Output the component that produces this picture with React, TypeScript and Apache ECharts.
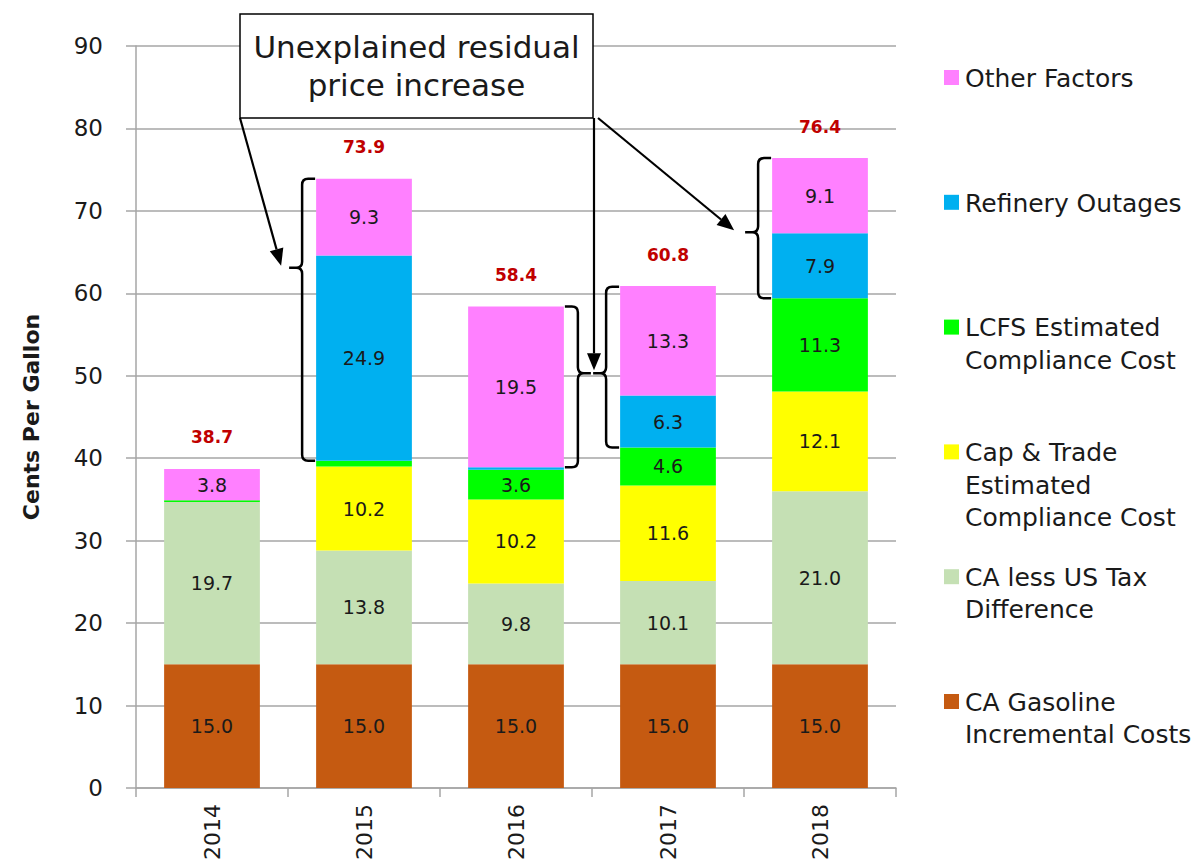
import React, { useEffect, useRef } from "react";
import * as echarts from "echarts";

const years = ["2014", "2015", "2016", "2017", "2018"];
const baseCost = [15.0, 15.0, 15.0, 15.0, 15.0];
const taxDiff = [19.7, 13.8, 9.8, 10.1, 21.0];
const capTrade = [0.0, 10.2, 10.2, 11.6, 12.1];
const lcfs = [0.2, 0.7, 3.6, 4.6, 11.3];
const refinery = [0.0, 24.9, 0.3, 6.3, 7.9];
const otherFactors = [3.8, 9.3, 19.5, 13.3, 9.1];
const totals = [38.7, 73.9, 58.4, 60.8, 76.4];

const seriesNames = [
  "CA Gasoline Incremental Costs",
  "CA less US Tax Difference",
  "Cap & Trade Estimated Compliance Cost",
  "LCFS Estimated Compliance Cost",
  "Refinery Outages",
  "Other Factors",
];
const legendLabels = [
  "CA Gasoline\nIncremental Costs",
  "CA less US Tax\nDifference",
  "Cap & Trade\nEstimated\nCompliance Cost",
  "LCFS Estimated\nCompliance Cost",
  "Refinery Outages",
  "Other Factors",
];
const seriesColors = ["#C55A11", "#C5E0B4", "#FFFF00", "#00FF00", "#00B0F0", "#FF80FF"];
const seriesData = [baseCost, taxDiff, capTrade, lcfs, refinery, otherFactors];

// brace annotations: category index, side, stack range (bottom..top), tip value
const braceYear = [1, 2, 3, 4];
const braceSide = [-1, 1, -1, -1];
const braceBottom = [39.7, 38.9, 41.3, 59.4];
const braceTop = [73.9, 58.4, 60.8, 76.4];
const braceTip = [63.1, 50.3, 50.3, 67.4];

const annotationText = "Unexplained residual\nprice increase";

const FONT = "'DejaVu Sans', sans-serif";
const TXT = "#1a1a1a";

const Brace = (echarts.graphic as any).extendShape({
  type: "brace",
  shape: { x1: 0, y1: 0, y2: 0, yt: 0, dir: -1, arm: 13, tip: 13, r: 6 },
  buildPath(ctx: any, s: any) {
    const sg = s.dir;
    const xv = s.x1 + sg * s.arm;
    const xt = xv + sg * s.tip;
    const r = s.r;
    ctx.moveTo(s.x1, s.y1);
    ctx.lineTo(xv - sg * r, s.y1);
    ctx.quadraticCurveTo(xv, s.y1, xv, s.y1 + r);
    ctx.lineTo(xv, s.yt - r);
    ctx.quadraticCurveTo(xv, s.yt, xv + sg * r, s.yt);
    ctx.lineTo(xt, s.yt);
    ctx.moveTo(xv + sg * r, s.yt);
    ctx.quadraticCurveTo(xv, s.yt, xv, s.yt + r);
    ctx.lineTo(xv, s.y2 - r);
    ctx.quadraticCurveTo(xv, s.y2, xv - sg * r, s.y2);
    ctx.lineTo(s.x1, s.y2);
  },
});
(echarts.graphic as any).registerShape("brace", Brace);

function arrow(x1: number, y1: number, x2: number, y2: number) {
  const dx = x2 - x1;
  const dy = y2 - y1;
  const len = Math.sqrt(dx * dx + dy * dy);
  const ux = dx / len;
  const uy = dy / len;
  const L = 17;
  const W = 7;
  const bx = x2 - ux * L;
  const by = y2 - uy * L;
  const nx = -uy;
  const ny = ux;
  return [
    {
      type: "line",
      shape: { x1, y1, x2: bx, y2: by },
      style: { stroke: "#000", lineWidth: 2.2 },
      z: 100,
    },
    {
      type: "polygon",
      shape: {
        points: [
          [x2, y2],
          [bx + nx * W, by + ny * W],
          [bx - nx * W, by - ny * W],
        ],
      },
      style: { fill: "#000" },
      z: 100,
    },
  ];
}

export default function App() {
  const ref = useRef<HTMLDivElement>(null);

  useEffect(() => {
    if (!ref.current) return;
    const chart = echarts.init(ref.current, null, { renderer: "svg" });
    const barSeries = seriesNames.map((name, k) => ({
      name,
      type: "bar",
      stack: "total",
      barWidth: "63%",
      data: seriesData[k],
      itemStyle: { color: seriesColors[k] },
      label: {
        show: true,
        position: "inside",
        color: TXT,
        fontSize: 19,
        fontFamily: FONT,
        formatter: (p: any) => (p.value >= 1 ? Number(p.value).toFixed(1) : ""),
      },
    }));
    const option: any = {
      animation: false,
      textStyle: { fontFamily: FONT },
      grid: { left: 136, right: 302, top: 46, bottom: 77 },
      xAxis: {
        type: "category",
        data: years,
        axisLine: { lineStyle: { color: "#A6A6A6", width: 1.5 } },
        axisTick: { show: true, length: 9, lineStyle: { color: "#A6A6A6", width: 1.5 } },
        axisLabel: { rotate: 90, fontSize: 22, color: TXT, margin: 16, fontFamily: FONT },
      },
      yAxis: {
        type: "value",
        min: 0,
        max: 90,
        interval: 10,
        name: "Cents Per Gallon",
        nameLocation: "middle",
        nameRotate: 90,
        nameGap: 94,
        nameTextStyle: { fontSize: 22, fontWeight: "bold", color: TXT, fontFamily: FONT },
        axisLine: { show: true, lineStyle: { color: "#A6A6A6", width: 1.5 } },
        axisTick: { show: true, length: 10, lineStyle: { color: "#A6A6A6", width: 1.5 } },
        splitLine: { lineStyle: { color: "#A6A6A6", width: 1.5 } },
        axisLabel: { fontSize: 23, color: TXT, margin: 33, fontFamily: FONT },
      },
      series: [
        ...barSeries,
        {
          name: "Total",
          type: "line",
          data: totals,
          symbol: "circle",
          symbolSize: 2,
          itemStyle: { color: "rgba(0,0,0,0)" },
          lineStyle: { opacity: 0 },
          z: 10,
          label: {
            show: true,
            position: "top",
            distance: 22,
            color: "#C00000",
            fontWeight: "bold",
            fontSize: 17,
            fontFamily: FONT,
            formatter: (p: any) => Number(p.value).toFixed(1),
          },
        },
      ],
    };
    chart.setOption(option);

    const px = (i: number, v: number) =>
      chart.convertToPixel({ xAxisIndex: 0, yAxisIndex: 0 }, [i, v]) as number[];
    const bandW = px(1, 0)[0] - px(0, 0)[0];
    const halfBar = (bandW * 0.63) / 2;

    const elements: any[] = [];

    // legend
    const legendTop = 78;
    const legendStep = 124.8;
    for (let k = 0; k < 6; k++) {
      const idx = 5 - k;
      const cy = legendTop + k * legendStep;
      elements.push({
        type: "rect",
        shape: { x: 944, y: cy - 8, width: 15, height: 15 },
        style: { fill: seriesColors[idx] },
      });
      elements.push({
        type: "text",
        x: 965,
        y: cy - 16,
        style: {
          text: legendLabels[idx],
          font: `25px ${FONT}`,
          fill: TXT,
          lineHeight: 32.5,
          textVerticalAlign: "top",
        },
      });
    }

    // braces
    const tips: number[][] = [];
    for (let b = 0; b < braceYear.length; b++) {
      const i = braceYear[b];
      const side = braceSide[b];
      const cx = px(i, 0)[0];
      const x1 = cx + side * (halfBar + 1);
      const y1 = px(i, braceTop[b])[1];
      const y2 = px(i, braceBottom[b])[1];
      const yt = px(i, braceTip[b])[1];
      elements.push({
        type: "brace",
        shape: { x1, y1, y2, yt, dir: side, arm: 13, tip: 13, r: 6 },
        style: { stroke: "#000", lineWidth: 2.5, fill: "none" },
        z: 100,
      });
      tips.push([x1 + side * 26, yt]);
    }

    // annotation box
    const bx = 240, by = 14, bw = 353, bh = 104;
    elements.push({
      type: "rect",
      shape: { x: bx, y: by, width: bw, height: bh },
      style: { fill: "#fff", stroke: "#000", lineWidth: 1.5 },
      z: 100,
    });
    elements.push({
      type: "text",
      x: bx + bw / 2,
      y: by + bh / 2,
      style: {
        text: annotationText,
        font: `31px ${FONT}`,
        fill: TXT,
        lineHeight: 38,
        textAlign: "center",
        textVerticalAlign: "middle",
      },
      z: 101,
    });

    // arrows
    elements.push(...arrow(bx, by + bh, tips[0][0] - 8, tips[0][1] - 2));
    elements.push(...arrow(bx + bw + 1, by + bh, bx + bw + 1, tips[1][1] - 3));
    elements.push(...arrow(bx + bw + 5, by + bh, tips[3][0] - 11, tips[3][1] - 2));

    chart.setOption({ graphic: { elements } });

    return () => chart.dispose();
  }, []);

  return (
    <div
      ref={ref}
      style={{ position: "absolute", left: 0, top: 0, width: 1198, height: 865 }}
    />
  );
}
